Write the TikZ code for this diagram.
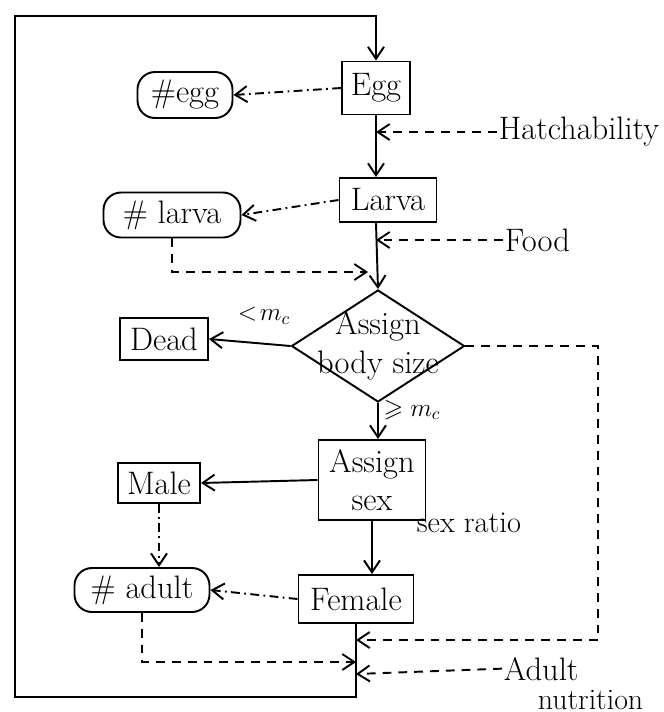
\documentclass[tikz,border=0pt]{standalone}
\usepackage{amssymb}
\usepackage{fontspec}
\usetikzlibrary{shapes.geometric,arrows.meta}

\begin{document}
\begin{tikzpicture}[x=0.2mm,y=-0.2mm,line width=1.1pt,font=\fontsize{18.5}{22}\selectfont,
    >={Straight Barb[length=2.4mm,width=3.2mm]},
    box/.style={draw,inner sep=0pt},
    stock/.style={draw,inner sep=0pt,rounded corners=3.5mm},
    tag/.style={inner sep=0.5pt},
    link/.style={->,dash pattern=on 5pt off 2.5pt on 1pt off 2.5pt},
    driver/.style={->,dash pattern=on 5pt off 4pt}]
    \useasboundingbox (0,0) rectangle (664,712);
    \node[box,minimum width=13.6mm,minimum height=10.6mm] (egg) at (376,88) {Egg};
    \node[stock,minimum width=19mm,minimum height=9.2mm] (negg) at (185,95) {\#egg};
    \node[box,minimum width=19.4mm,minimum height=8.8mm] (larva) at (388,200) {Larva};
    \node[stock,minimum width=27.4mm,minimum height=9mm] (nlarva) at (172,215) {\# larva};
    \node[draw,shape=diamond,inner sep=0pt,minimum width=34.6mm,minimum height=22.4mm,
        label={[align=center]center:{Assign\\body size}}] (size) at (378,346) {};
    \node[box,minimum width=17.6mm,minimum height=8.4mm] (dead) at (164,339) {Dead};
    \node[box,align=center,minimum width=21.4mm,minimum height=16mm] (sex) at (372,480) {Assign\\sex};
    \node[box,minimum width=16.4mm,minimum height=8mm] (male) at (159,483) {Male};
    \node[box,minimum width=23mm,minimum height=9.6mm] (female) at (356,599) {Female};
    \node[stock,minimum width=27mm,minimum height=8.8mm] (nadult) at (142,590) {\# adult};

    \node[tag,anchor=west] (hatch) at (497,132) {Hatchability};
    \node[tag,anchor=west] (food) at (503,240) {Food};
    \node[tag,anchor=base west] (adult) at (502,680) {Adult};
    \node[tag,anchor=base west,font=\fontsize{17}{20}\selectfont] (nutri) at (536,709) {nutrition};
    \node[tag,font=\Large] (lt) at (264,316) {$<\!m_c$};
    \node[tag,font=\Large] (ge) at (412,410) {$\geqslant m_c$};
    \node[tag,anchor=west,font=\LARGE] (ratio) at (415,523) {sex ratio};

    \coordinate (tl) at (15,16);
    \coordinate (bl) at (15,697);
    \coordinate (j0) at (368,272);
    \coordinate (rc) at (598,640);
    \coordinate (j1) at (356,640);
    \coordinate (j2) at (356,662);
    \coordinate (j3) at (356,674);

    \draw[->] (egg) -- (egg |- larva.north);
    \draw[->] (egg |- larva.south) -- (size.north);
    \draw[->] (size.south) -- (size.south |- sex.north);
    \draw[->] (size.west) -- (dead.east);
    \draw[->] (sex.west) -- (male.east);
    \draw[->] (sex.south) -- (sex.south |- female.north);
    \draw[->] (female.south) |- (bl) -- (tl) -| (egg.north);

    \draw[link] (egg.west) -- (negg.east);
    \draw[link] (larva.west) -- (nlarva.east);
    \draw[link] (male.south) -- (male.south |- nadult.north);
    \draw[link] (female.west) -- (nadult.east);

    \draw[driver] (hatch.west) -- (egg.south |- hatch.west);
    \draw[driver] (food.west) -- (egg.south |- food.west);
    \draw[driver] (nlarva.south) |- (j0);
    \draw[driver] (size.east) -| (rc) -- (j1);
    \draw[driver] (nadult.south) |- (j2);
    \draw[driver] (adult.west) -- (j3);
\end{tikzpicture}
\end{document}
